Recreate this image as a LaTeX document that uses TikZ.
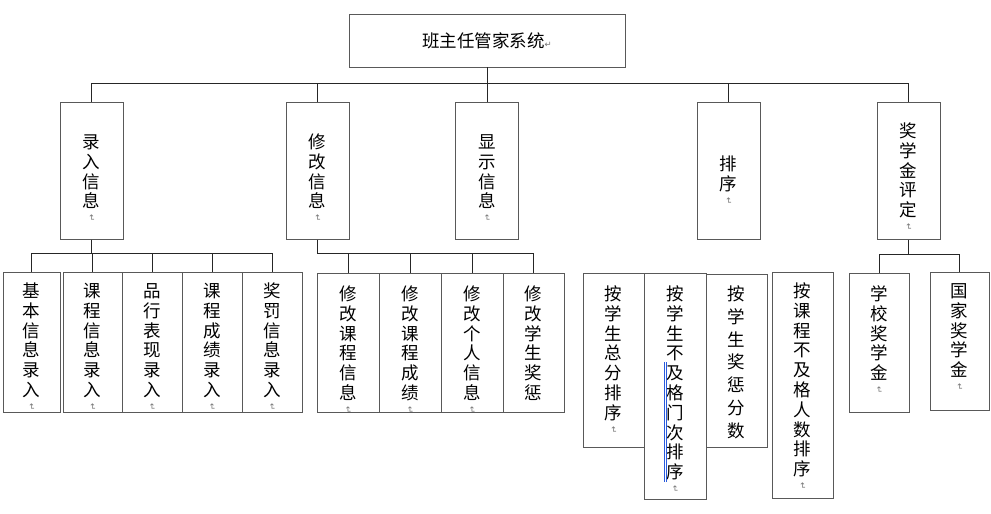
\documentclass[tikz,border=0pt]{standalone}
\usepackage{fontspec}
\usepackage{graphicx}
\usepackage{xcolor}
\newfontfamily\cjk{Noto Sans CJK SC}
\newfontfamily\symb{DejaVu Sans}
\usetikzlibrary{positioning}
\definecolor{revblue}{RGB}{40,90,220}
\newcommand\retmark{{\symb\fontsize{8.5}{8.5}\selectfont\textcolor{black!55}{↵}}}
\newcommand\vretmark{\rotatebox{-90}{\retmark}}
\newcommand\vcol[3]{\parbox[c][#2][t]{40pt}{\centering\rule{0pt}{#1}#3}}
\tikzset{
  box/.style={draw=black!65, line width=0.9pt, inner sep=0pt, font=\cjk\fontsize{17.5}{19.8}\selectfont},
  rootbox/.style={box, minimum width=276pt, minimum height=53pt},
  colbox/.style={box, anchor=north},
  branch/.style={draw=black!85, line width=0.7pt}
}

\begin{document}
\begin{tikzpicture}[x=1pt, y=-1pt]
\useasboundingbox (0,0) rectangle (991,514);
\node[rootbox] (root) at (487,40.5) {班主任管家系统\retmark};

% first level
\node[colbox, minimum width=63pt] (lr) at (91.5,102) {\vcol{46pt}{137pt}{录\\入\\信\\息\\[-13pt]\vretmark}};
\node[colbox, minimum width=63pt] (xg) at (317.5,102) {\vcol{46pt}{137pt}{修\\改\\信\\息\\[-13pt]\vretmark}};
\node[colbox, minimum width=63pt] (xs) at (487,102) {\vcol{46pt}{137pt}{显\\示\\信\\息\\[-13pt]\vretmark}};
\node[colbox, minimum width=63pt] (px) at (728.5,102) {\vcol{68pt}{137pt}{排\\序\\[-13pt]\vretmark}};
\node[colbox, minimum width=63pt] (jx) at (908.5,102) {\vcol{35pt}{137pt}{奖\\学\\金\\评\\定\\[-13pt]\vretmark}};

% input
\node[colbox, minimum width=57pt] (lr1) at (31.5,272) {\vcol{25pt}{140pt}{基\\本\\信\\息\\录\\入\\[-13pt]\vretmark}};
\node[colbox, minimum width=59pt] (lr2) at (92.5,272) {\vcol{25pt}{140pt}{课\\程\\信\\息\\录\\入\\[-13pt]\vretmark}};
\node[colbox, minimum width=60pt] (lr3) at (152,272) {\vcol{25pt}{140pt}{品\\行\\表\\现\\录\\入\\[-13pt]\vretmark}};
\node[colbox, minimum width=60pt] (lr4) at (212,272) {\vcol{25pt}{140pt}{课\\程\\成\\绩\\录\\入\\[-13pt]\vretmark}};
\node[colbox, minimum width=60pt] (lr5) at (272,272) {\vcol{25pt}{140pt}{奖\\罚\\信\\息\\录\\入\\[-13pt]\vretmark}};

% modify
\node[colbox, minimum width=62pt] (xg1) at (348,273) {\vcol{27pt}{139pt}{修\\改\\课\\程\\信\\息\\[-13pt]\vretmark}};
\node[colbox, minimum width=62pt] (xg2) at (410,273) {\vcol{27pt}{139pt}{修\\改\\课\\程\\成\\绩\\[-13pt]\vretmark}};
\node[colbox, minimum width=62pt] (xg3) at (472,273) {\vcol{27pt}{139pt}{修\\改\\个\\人\\信\\息\\[-13pt]\vretmark}};
\node[colbox, minimum width=61pt] (xg4) at (533.5,273) {\vcol{27pt}{139pt}{修\\改\\学\\生\\奖\\惩}};

% sort
\node[colbox, minimum width=61pt] (px1) at (613.5,273) {\vcol{27pt}{174pt}{按\\学\\生\\总\\分\\排\\序\\[-13pt]\vretmark}};
\node[colbox, minimum width=62pt] (px2) at (675,273) {\vcol{27pt}{226pt}{按\\学\\生\\不\\及\\格\\门\\次\\排\\序\\[-13pt]\vretmark}};
\node[colbox, minimum width=61pt] (px3) at (736.5,274) {\vcol{26pt}{173pt}{按\\[3pt]学\\[3pt]生\\[3pt]奖\\[3pt]惩\\[3pt]分\\[3pt]数}};
\node[colbox, minimum width=61pt] (px4) at (802.5,272) {\vcol{25pt}{226pt}{按\\课\\程\\不\\及\\格\\人\\数\\排\\序\\[-13pt]\vretmark}};

% scholarship
\node[colbox, minimum width=60pt] (jx1) at (879,273) {\vcol{27pt}{139pt}{学\\校\\奖\\学\\金\\[-13pt]\vretmark}};
\node[colbox, minimum width=59pt] (jx2) at (959.5,272) {\vcol{25pt}{138pt}{国\\家\\奖\\学\\金\\[-13pt]\vretmark}};

\draw[branch] (root.south) -- (xs.north);
\foreach \n in {lr,xg,px,jx}
  \draw[branch] (root.south) -- ++(0,16) -| (\n.north);
\foreach \n in {lr1,lr2,lr3,lr4,lr5}
  \draw[branch] (lr.south) -- ++(0,13) -| (\n.north);
\foreach \n in {xg1,xg2,xg3,xg4}
  \draw[branch] (xg.south) -- ++(0,13) -| (\n.north);
\foreach \n in {jx1,jx2}
  \draw[branch] (jx.south) -- ++(0,14) -| (\n.north);

\draw[revblue, line width=0.6pt] (663.8,362) -- (663.8,482);
\draw[revblue, line width=0.6pt] (666.2,362) -- (666.2,482);
\end{tikzpicture}
\end{document}
